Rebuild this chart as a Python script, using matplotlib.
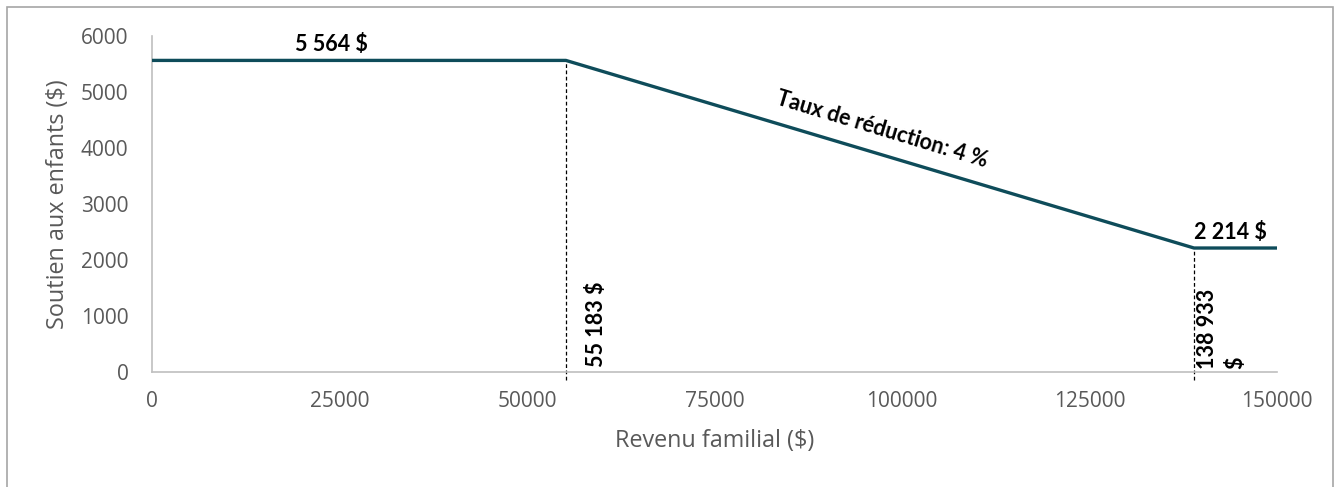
import matplotlib
matplotlib.use("Agg")
import matplotlib.pyplot as plt
from matplotlib.patches import Rectangle

# données
revenu = [0, 55183, 138933, 150000]
soutien = [5564, 5564, 2214, 2214]
x_ticks = [0, 25000, 50000, 75000, 100000, 125000, 150000]
y_ticks = [0, 1000, 2000, 3000, 4000, 5000, 6000]
seuil_bas = 55183
seuil_haut = 138933

plt.rcParams['font.family'] = ['Open Sans', 'DejaVu Sans']
gras = ['Lato', 'DejaVu Sans']

fig = plt.figure(figsize=(13.41, 4.87), dpi=100)
ax = fig.add_axes([152 / 1341, 1 - 372 / 487, 1125 / 1341, 336 / 487])

gris = '#595959'
ligne = '#0E4C5A'

ax.plot(revenu, soutien, color=ligne, lw=2.4, solid_capstyle='butt', zorder=3)

# lignes pointillées aux seuils
ax.plot([seuil_bas, seuil_bas], [-150, soutien[1]], ls=(0, (3, 2)), color='black', lw=0.9, clip_on=False)
ax.plot([seuil_haut, seuil_haut], [-150, soutien[2] - 40], ls=(0, (3, 2)), color='black', lw=0.9, clip_on=False)

ax.set_xlim(0, 150000)
ax.set_ylim(0, 6000)
ax.set_xticks(x_ticks)
ax.set_yticks(y_ticks)
ax.tick_params(length=0, labelsize=15, colors=gris)
ax.tick_params(axis='x', pad=14)
ax.tick_params(axis='y', pad=17)
for s in ['top', 'right']:
    ax.spines[s].set_visible(False)
for s in ['left', 'bottom']:
    ax.spines[s].set_color('#BFBFBF')
    ax.spines[s].set_linewidth(1.2)

ax.set_xlabel('Revenu familial ($)', fontsize=16.8, color=gris, labelpad=12)
ax.set_ylabel('Soutien aux enfants ($)', fontsize=16.8, color=gris, labelpad=8)

# annotations
ax.text(23870, 5660, '5 564 $', fontsize=15.5, fontweight='bold', ha='center', va='bottom', family=gras)
ax.text(139000, 2300, '2 214 $', fontsize=15.5, fontweight='bold', ha='left', va='bottom', family=gras)
ax.text(59300, 90, '55 183 $', fontsize=15.5, fontweight='bold', rotation=90, ha='center', va='bottom',
        family=gras)
ax.text(139300, 60, '138 933\n$', fontsize=15.5, fontweight='bold', rotation=90,
        ha='left', va='bottom', multialignment='left', linespacing=1.45, family=gras)
ax.text(96900, 4150, 'Taux de réduction: 4 %', fontsize=15.5, fontweight='bold',
        rotation=-16.8, rotation_mode='anchor', ha='center', va='bottom', family=gras)

# cadre
fig.patches.append(Rectangle((7 / 1341, -0.05), 1326 / 1341, 1.05 - 7 / 487, transform=fig.transFigure,
                             fill=False, edgecolor='#A6A6A6', lw=1.2))

fig.savefig('out.png', dpi=100)
